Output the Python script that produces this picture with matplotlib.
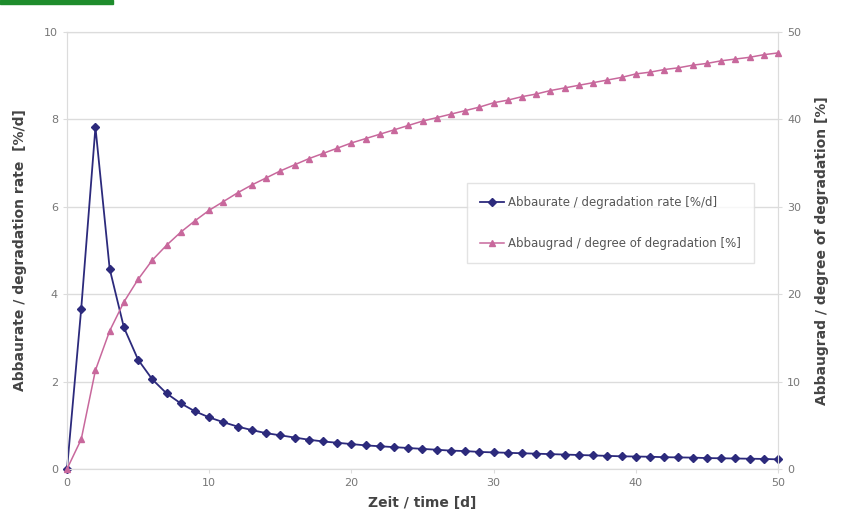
import matplotlib
matplotlib.use("Agg")
from matplotlib import pyplot as plt
from matplotlib.patches import Rectangle

days = list(range(0, 51))
rate = [0.0, 3.67, 7.82, 4.58, 3.24, 2.50, 2.05, 1.73, 1.50, 1.32,
        1.18, 1.07, 0.97, 0.89, 0.82, 0.77, 0.72, 0.67, 0.63, 0.60,
        0.57, 0.54, 0.52, 0.50, 0.48, 0.46, 0.44, 0.42, 0.41, 0.39,
        0.38, 0.37, 0.36, 0.35, 0.34, 0.33, 0.32, 0.31, 0.30, 0.29,
        0.285, 0.28, 0.27, 0.265, 0.26, 0.25, 0.245, 0.24, 0.235, 0.23,
        0.22]
degree = [0.0, 3.4, 11.3, 15.8, 19.1, 21.7, 23.9, 25.6, 27.1, 28.4,
          29.6, 30.6, 31.6, 32.5, 33.3, 34.1, 34.8, 35.5, 36.1, 36.7,
          37.3, 37.8, 38.3, 38.8, 39.3, 39.8, 40.2, 40.6, 41.0, 41.4,
          41.9, 42.2, 42.6, 42.9, 43.3, 43.6, 43.9, 44.2, 44.5, 44.8,
          45.2, 45.4, 45.7, 45.9, 46.2, 46.4, 46.7, 46.9, 47.1, 47.4,
          47.6]

label_rate = "Abbaurate / degradation rate [%/d]"
label_degree = "Abbaugrad / degree of degradation [%]"

BLUE = "#2c2a7c"
PINK = "#c8689c"
GRID = "#dcdcdc"
TXT = "#777777"

fig = plt.figure(figsize=(8.45, 5.24), dpi=100)
fig.patches.append(Rectangle((0, 0.992), 0.134, 0.008, transform=fig.transFigure,
                             color="#1e8c2c", zorder=5))

ax = fig.add_axes([0.0793, 0.105, 0.8414, 0.834])
ax2 = ax.twinx()

l1, = ax.plot(days, rate, color=BLUE, lw=1.3, marker="D", ms=4.5,
              label=label_rate, zorder=3, clip_on=False)
l2, = ax2.plot(days, degree, color=PINK, lw=1.1, marker="^", ms=5,
               label=label_degree, zorder=3, clip_on=False)

ax.set_xlim(0, 50)
ax.set_ylim(0, 10)
ax2.set_ylim(0, 50)
ax.set_xticks([0, 10, 20, 30, 40, 50])
ax.set_yticks([0, 2, 4, 6, 8, 10])
ax2.set_yticks([0, 10, 20, 30, 40, 50])
ax.grid(axis="y", color=GRID, lw=1)
ax.set_axisbelow(True)

for a in (ax, ax2):
    for s in a.spines.values():
        s.set_color(GRID)
    a.tick_params(colors=GRID, labelcolor=TXT, labelsize=8, length=3)

ax.set_xlabel("Zeit / time [d]", fontsize=10, fontweight="bold", color="#444444", labelpad=6)
ax.set_ylabel("Abbaurate / degradation rate  [%/d]", fontsize=10, fontweight="bold",
              color="#444444", labelpad=12)
ax2.set_ylabel(label_degree, fontsize=10, fontweight="bold", color="#444444", labelpad=10)

leg = ax2.legend([l1, l2], [label_rate, label_degree], loc="upper left",
                 bbox_to_anchor=(0.5626, 0.654), fontsize=8.5, frameon=True,
                 fancybox=False, edgecolor=GRID, labelspacing=2.4,
                 handlelength=2.0, handletextpad=0.4, borderpad=1.1, borderaxespad=0)
for t in leg.get_texts():
    t.set_color("#555555")

fig.savefig("out.png", dpi=100)
